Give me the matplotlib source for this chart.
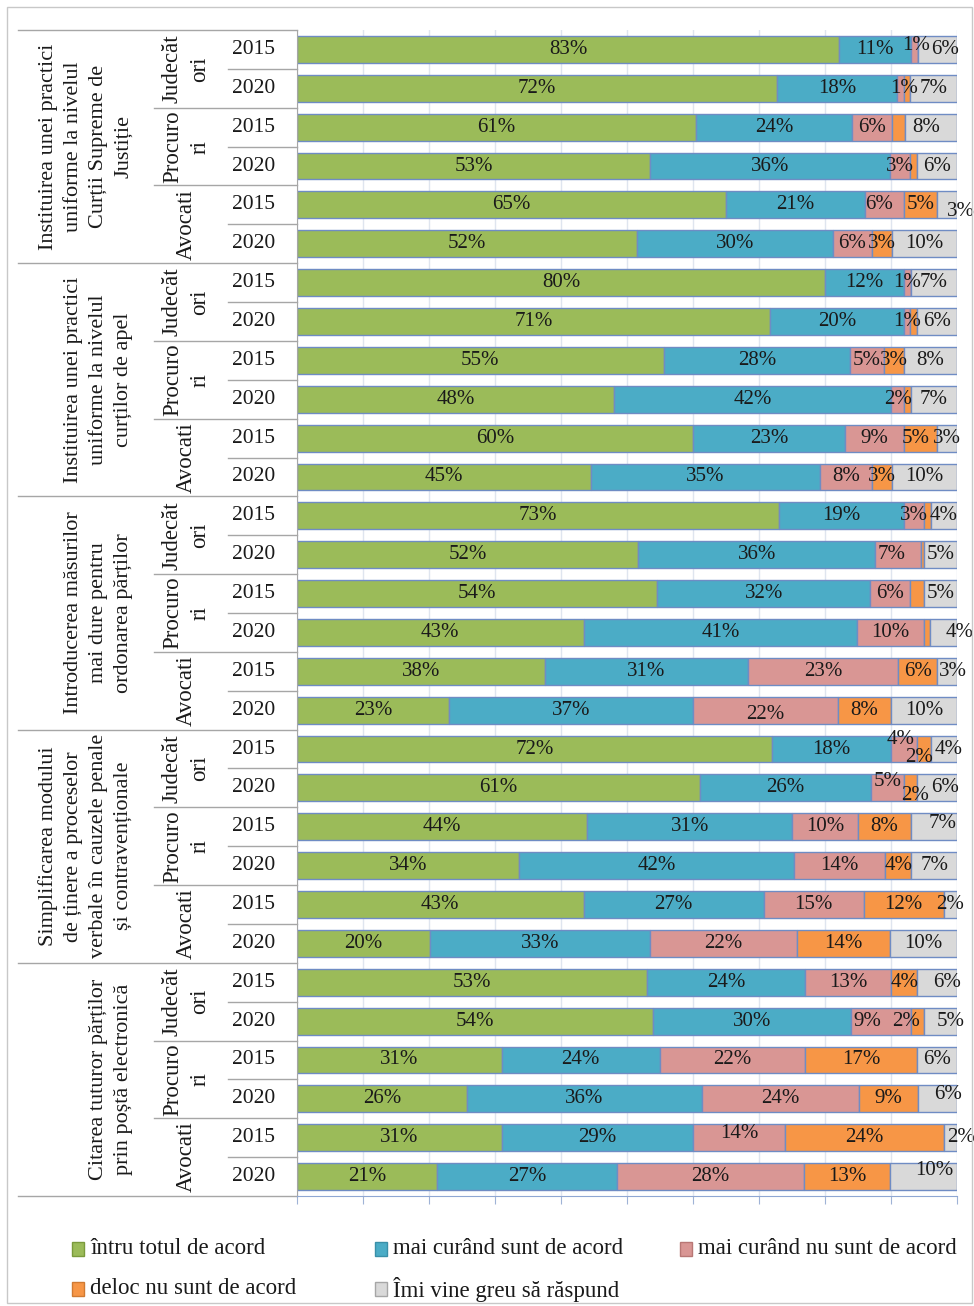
import numpy as np
import matplotlib.pyplot as plt
import matplotlib.transforms as mtransforms
from matplotlib.lines import Line2D
from matplotlib.patches import Rectangle

plt.rcParams['font.family'] = ['Liberation Serif', 'DejaVu Serif']

# ---------------------------------------------------------------------------
# Date
# ---------------------------------------------------------------------------
intrebari = [
    'Instituirea unei practici\nuniforme la nivelul\nCurții Supreme de\nJustiție',
    'Instituirea unei practici\nuniforme la nivelul\ncurților de apel',
    'Introducerea măsurilor\nmai dure pentru\nordonarea părților',
    'Simplificarea modului\nde ținere a proceselor\nverbale în cauzele penale\nși contravenționale',
    'Citarea tuturor părților\nprin poștă electronică',
]
grupuri = ['Judecăt\nori', 'Procuro\nri', 'Avocati']
ani = ['2015', '2020']

categorii = ['întru totul de acord', 'mai curând sunt de acord',
             'mai curând nu sunt de acord', 'deloc nu sunt de acord',
             'Îmi vine greu să răspund']
culori = ['#9bbb59', '#4bacc6', '#d99694', '#f79646', '#d9d9d9']
margini = ['#7a9a3c', '#3a8fa8', '#b87775', '#d07a32', '#a6a6a6']

# 30 randuri: intrebare x grup x an (de sus in jos)
total_acord = [83, 72, 61, 53, 65, 52, 80, 71, 55, 48, 60, 45, 73, 52, 54,
               43, 38, 23, 72, 61, 44, 34, 43, 20, 53, 54, 31, 26, 31, 21]
curand_acord = [11, 18, 24, 36, 21, 30, 12, 20, 28, 42, 23, 35, 19, 36, 32,
                41, 31, 37, 18, 26, 31, 42, 27, 33, 24, 30, 24, 36, 29, 27]
curand_nu = [1, 1, 6, 3, 6, 6, 1, 1, 5, 2, 9, 8, 3, 7, 6,
             10, 23, 22, 4, 5, 10, 14, 15, 22, 13, 9, 22, 24, 14, 28]
deloc = [0, 1, 2, 1, 5, 3, 0, 1, 3, 1, 5, 3, 1, 0.5, 2,
         1, 6, 8, 2, 2, 8, 4, 12, 14, 4, 2, 17, 9, 24, 13]
greu = [6, 7, 8, 6, 3, 10, 7, 6, 8, 7, 3, 10, 4, 5, 5,
        4, 3, 10, 4, 6, 7, 7, 2, 10, 6, 5, 6, 6, 2, 10]

# segmente fara eticheta in original
fara_eticheta = {(1, 3), (2, 3), (3, 3), (7, 3), (9, 3), (12, 3), (13, 3),
                 (14, 3), (15, 3)}

# deplasari ale etichetelor (pixeli: dx spre dreapta, dy in jos)
deplasari = {
    (0, 2): (2, -4), (0, 4): (8, 0), (1, 2): (4, 0),
    (2, 4): (-5, 0), (4, 2): (-5, 0), (4, 4): (14, 7),
    (10, 3): (-5, 0), (13, 2): (-6, 0),
    (15, 4): (16, 0), (16, 4): (6, 0), (17, 2): (0, 4),
    (18, 2): (-4, -10), (18, 3): (-5, 8), (18, 4): (5, 0),
    (19, 2): (0, -6), (19, 3): (4, 8), (19, 4): (8, 0),
    (20, 4): (9, -3), (24, 4): (10, 0),
    (25, 2): (-14, 0), (25, 3): (-11, 0), (25, 4): (10, 0),
    (27, 4): (11, -4), (28, 2): (0, -4), (28, 4): (11, 0), (29, 4): (11, -6),
}

# ---------------------------------------------------------------------------
W, H = 974, 1306
fig = plt.figure(figsize=(W / 100, H / 100), dpi=100)


def fx(px):
    return px / W


def fy(py):
    return 1 - py / H


sus, jos, stanga, dreapta = 30, 1196, 297, 957
ax = fig.add_axes([fx(stanga), fy(jos), fx(dreapta - stanga),
                   (jos - sus) / H])

serii = np.array([total_acord, curand_acord, curand_nu, deloc, greu],
                 dtype=float)
n = serii.shape[1]
procente = serii / serii.sum(axis=0) * 100
y = np.arange(n)

stang = np.zeros(n)
for k in range(5):
    ax.barh(y, procente[k], left=stang, height=0.69, color=culori[k],
            edgecolor='#6f8cc4', linewidth=1.0, zorder=2)
    for i in range(n):
        v = serii[k, i]
        if v == 0 or (i, k) in fara_eticheta:
            continue
        dx, dy = deplasari.get((i, k), (0, 0))
        ax.annotate(f'{int(v)}%', xy=(stang[i] + procente[k, i] / 2, i),
                    xytext=(dx, -dy), textcoords='offset pixels',
                    ha='center', va='center', fontsize=15,
                    color='#1a1a1a', zorder=4, annotation_clip=False)
    stang += procente[k]

ax.set_xlim(0, 100)
ax.set_ylim(n - 0.5, -0.5)
ax.set_xticks(np.arange(0, 101, 10))
ax.set_xticklabels([])
ax.set_yticks([])
ax.xaxis.grid(True, color='#dfe5ef', linewidth=1)
ax.set_axisbelow(True)
ax.tick_params(axis='x', direction='out', length=6, color='#9fb3d6')
for s in ['top', 'right']:
    ax.spines[s].set_visible(False)
ax.spines['bottom'].set_color('#8fa7d3')
ax.spines['left'].set_color('#a6a6a6')

# ---------------------------------------------------------------------------
# Tabelul din stanga
# ---------------------------------------------------------------------------
tr = mtransforms.blended_transform_factory(fig.transFigure, ax.transData)
culoare_linie = '#a6a6a6'


def linie(x0, yv):
    ax.add_line(Line2D([fx(x0), fx(stanga)], [yv, yv], transform=tr,
                       color=culoare_linie, linewidth=1, clip_on=False))


for i in range(n + 1):
    yv = i - 0.5
    if i % 6 == 0:
        linie(18, yv)
    elif i % 2 == 0:
        linie(154, yv)
    else:
        linie(228, yv)

for i in range(n):
    ax.text(fx(254), i, ani[i % 2], transform=tr, ha='center', va='center',
            fontsize=15.5, color='#1a1a1a')

for g in range(n // 2):
    yc = 2 * g + 0.5
    ax.text(fx(186), yc, grupuri[g % 3], transform=tr, rotation=90,
            ha='center', va='center', fontsize=16.5, linespacing=1.4,
            multialignment='center', color='#1a1a1a')

for q in range(len(intrebari)):
    yc = 6 * q + 2.5
    ax.text(fx(133), yc, intrebari[q], transform=tr, rotation=90,
            ha='right', va='center', fontsize=16, linespacing=1.42,
            multialignment='center', color='#1a1a1a')

# ---------------------------------------------------------------------------
# Legenda
# ---------------------------------------------------------------------------
pozitii = [(72, 1249), (375, 1249), (680, 1249), (72, 1289), (375, 1289)]
for k, (px, py) in enumerate(pozitii):
    fig.patches.append(Rectangle((fx(px), fy(py + 7)), 12 / W, 14 / H,
                                 transform=fig.transFigure,
                                 facecolor=culori[k], edgecolor=margini[k],
                                 linewidth=1))
    fig.text(fx(px + 18), fy(py), categorii[k], ha='left', va='center',
             fontsize=16.5, color='#1a1a1a')

# chenar exterior
fig.patches.append(Rectangle((fx(7), fy(1303)), (972 - 7) / W,
                             (1303 - 7) / H, transform=fig.transFigure,
                             fill=False, edgecolor='#c8c8c8', linewidth=1))

fig.savefig('out.png', dpi=100)
